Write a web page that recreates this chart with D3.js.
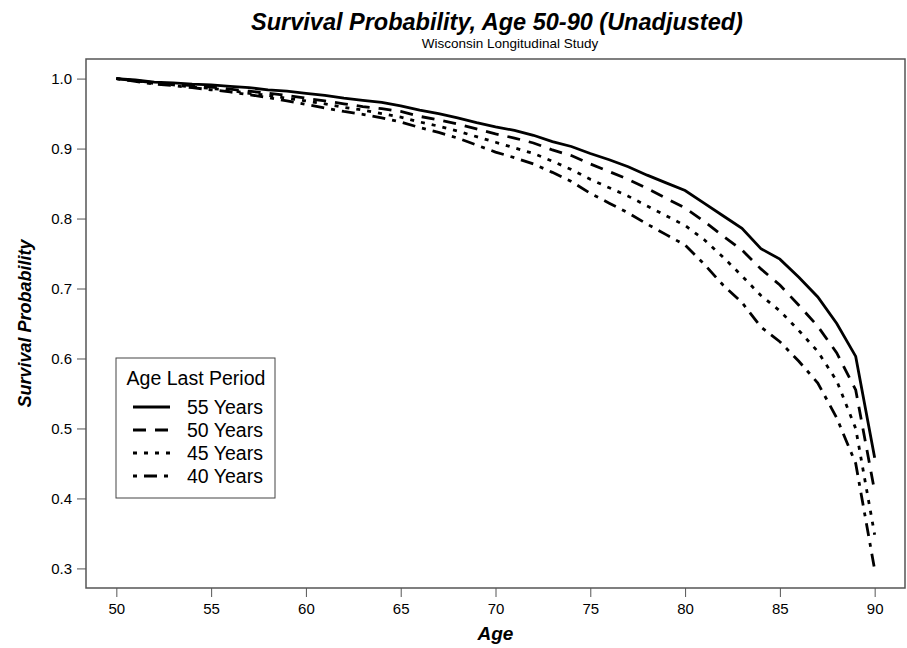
<!DOCTYPE html>
<html>
<head>
<meta charset="utf-8">
<script src="https://cdn.jsdelivr.net/npm/d3@7"></script>
<style>
  body { margin: 0; background: #fff; }
  svg { font-family: "Liberation Sans", Arial, sans-serif; }
</style>
</head>
<body>
<svg width="907" height="648"></svg>
<script>
const ages = d3.range(50, 91);

const yrs55 = [1.000, 0.998, 0.995, 0.994, 0.992, 0.991, 0.989, 0.987, 0.984, 0.982,
  0.979, 0.976, 0.972, 0.969, 0.966, 0.961, 0.955, 0.950, 0.944, 0.937,
  0.931, 0.926, 0.919, 0.910, 0.903, 0.893, 0.884, 0.874, 0.862, 0.851,
  0.840, 0.822, 0.804, 0.786, 0.757, 0.742, 0.716, 0.688, 0.650, 0.603, 0.458];
const yrs50 = [1.000, 0.997, 0.994, 0.992, 0.990, 0.988, 0.985, 0.982, 0.979, 0.976,
  0.972, 0.968, 0.964, 0.960, 0.957, 0.953, 0.946, 0.941, 0.935, 0.928,
  0.921, 0.915, 0.908, 0.898, 0.890, 0.878, 0.867, 0.856, 0.843, 0.829,
  0.815, 0.796, 0.775, 0.755, 0.728, 0.705, 0.676, 0.646, 0.608, 0.555, 0.410];
const yrs45 = [1.000, 0.997, 0.993, 0.991, 0.988, 0.986, 0.983, 0.979, 0.976, 0.972,
  0.968, 0.964, 0.959, 0.955, 0.950, 0.945, 0.938, 0.932, 0.925, 0.917,
  0.909, 0.901, 0.893, 0.882, 0.870, 0.856, 0.844, 0.832, 0.818, 0.804,
  0.790, 0.770, 0.745, 0.718, 0.690, 0.668, 0.640, 0.610, 0.568, 0.500, 0.348];
const yrs40 = [1.000, 0.996, 0.992, 0.990, 0.987, 0.984, 0.981, 0.977, 0.973, 0.968,
  0.963, 0.958, 0.953, 0.949, 0.944, 0.938, 0.930, 0.923, 0.915, 0.905,
  0.895, 0.887, 0.878, 0.866, 0.853, 0.836, 0.822, 0.808, 0.792, 0.777,
  0.762, 0.735, 0.705, 0.680, 0.645, 0.624, 0.596, 0.565, 0.515, 0.450, 0.298];

const seriesNames = ['55 Years', '50 Years', '45 Years', '40 Years'];
const seriesValues = [yrs55, yrs50, yrs45, yrs40];
const dashes = ['none', '13,9', '4,7', '4,7,13,7'];

const xTicks = [50, 55, 60, 65, 70, 75, 80, 85, 90];
const yTicks = [0.3, 0.4, 0.5, 0.6, 0.7, 0.8, 0.9, 1.0];

const svg = d3.select('svg');
const pLeft = 86, pRight = 905, pTop = 59, pBottom = 588;

const x = d3.scaleLinear().domain([48.4, 91.6]).range([pLeft, pRight]);
const y = d3.scaleLinear().domain([0.272, 1.028]).range([pBottom, pTop]);

// titles
svg.append('text')
    .attr('x', 497).attr('y', 30)
    .attr('text-anchor', 'middle')
    .style('font-size', '23.5px').style('font-weight', 'bold').style('font-style', 'italic')
    .text('Survival Probability, Age 50-90 (Unadjusted)');
svg.append('text')
    .attr('x', 510).attr('y', 48)
    .attr('text-anchor', 'middle')
    .style('font-size', '13.5px')
    .text('Wisconsin Longitudinal Study');

// axes
const xAxis = svg.append('g')
    .attr('transform', `translate(0,${pBottom})`)
    .call(d3.axisBottom(x).tickValues(xTicks).tickSize(9).tickPadding(6).tickFormat(d3.format('d')));
const yAxis = svg.append('g')
    .attr('transform', `translate(${pLeft},0)`)
    .call(d3.axisLeft(y).tickValues(yTicks).tickSize(9).tickPadding(5).tickFormat(d3.format('.1f')));
[xAxis, yAxis].forEach(a => {
    a.select('.domain').remove();
    a.selectAll('line').attr('stroke', '#555');
    a.selectAll('text').style('font-size', '15px').attr('fill', '#000')
        .style('font-family', '"Liberation Sans", Arial, sans-serif');
});

svg.append('rect')
    .attr('x', pLeft).attr('y', pTop)
    .attr('width', pRight - pLeft).attr('height', pBottom - pTop)
    .attr('fill', 'none').attr('stroke', '#555').attr('stroke-width', 1.5);

svg.append('text')
    .attr('x', (pLeft + pRight) / 2).attr('y', 640)
    .attr('text-anchor', 'middle')
    .style('font-size', '19px').style('font-weight', 'bold').style('font-style', 'italic')
    .text('Age');
svg.append('text')
    .attr('transform', `translate(31,${(pTop + pBottom) / 2}) rotate(-90)`)
    .attr('text-anchor', 'middle')
    .style('font-size', '18px').style('font-weight', 'bold').style('font-style', 'italic')
    .text('Survival Probability');

// curves
const line = d3.line().x((d, i) => x(ages[i])).y(d => y(d));
svg.append('g').selectAll('path')
    .data(seriesValues)
    .join('path')
    .attr('d', line)
    .attr('fill', 'none')
    .attr('stroke', '#000')
    .attr('stroke-width', 2.8)
    .attr('stroke-dasharray', (d, i) => dashes[i]);

// legend
const legend = svg.append('g');
legend.append('rect')
    .attr('x', 116).attr('y', 358).attr('width', 159).attr('height', 140)
    .attr('fill', '#fff').attr('stroke', '#444').attr('stroke-width', 1);
legend.append('text')
    .attr('x', 196).attr('y', 385)
    .attr('text-anchor', 'middle')
    .style('font-size', '19.5px')
    .text('Age Last Period');
const rows = legend.selectAll('g.row')
    .data(seriesNames)
    .join('g')
    .attr('transform', (d, i) => `translate(0,${407 + i * 23})`);
rows.append('line')
    .attr('x1', 133).attr('x2', 170)
    .attr('stroke', '#000').attr('stroke-width', 2.8)
    .attr('stroke-dasharray', (d, i) => dashes[i]);
rows.append('text')
    .attr('x', 187).attr('y', 7)
    .style('font-size', '19.5px')
    .text(d => d);
</script>
</body>
</html>
